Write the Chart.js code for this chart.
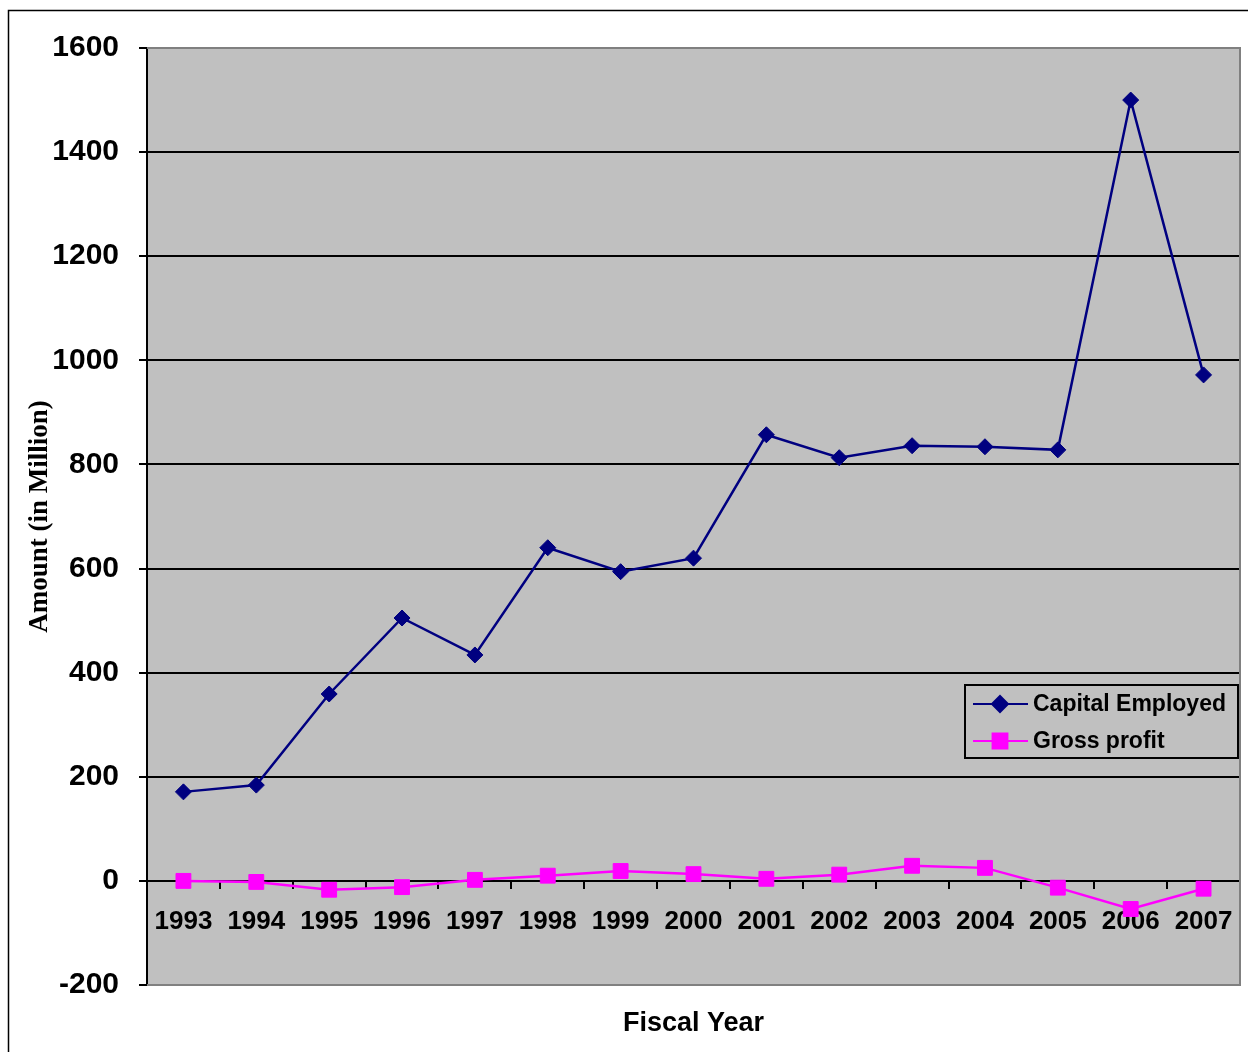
<!DOCTYPE html>
<html>
<head>
<meta charset="utf-8">
<title>Capital Employed vs Gross profit</title>
<script src="https://cdn.jsdelivr.net/npm/chart.js@4.4.1/dist/chart.umd.min.js"></script>
<style>
  html, body { margin: 0; padding: 0; background: #fff; }
  #wrap { width: 1248px; height: 1052px; }
</style>
</head>
<body>
<div id="wrap"><canvas id="chart" width="1248" height="1052"></canvas></div>
<script>
// --- data ---
const years = ['1993', '1994', '1995', '1996', '1997', '1998', '1999', '2000',
               '2001', '2002', '2003', '2004', '2005', '2006', '2007'];
const capitalEmployed = [171, 184, 359, 505, 434, 640, 594, 620, 857, 813, 836, 834, 828, 1500, 972];
const grossProfit = [0, -2, -17, -12, 2, 10, 19, 13, 4, 12, 29, 25, -13, -54, -15];
const yMin = -200;
const yMax = 1600;
const yStep = 200;

const plotGray = '#C0C0C0';
const borderGray = '#808080';

// fondo gris del area + marco exterior
const backgroundPlugin = {
  id: 'background',
  beforeDraw(chart) {
    const { ctx, chartArea: a } = chart;
    ctx.save();
    ctx.fillStyle = '#fff';
    ctx.fillRect(0, 0, chart.width, chart.height);
    ctx.strokeStyle = '#000';
    ctx.lineWidth = 1.5;
    ctx.beginPath();
    ctx.moveTo(8.5, chart.height);
    ctx.lineTo(8.5, 10.5);
    ctx.lineTo(chart.width, 10.5);
    ctx.stroke();
    ctx.fillStyle = plotGray;
    ctx.fillRect(a.left, a.top, a.right - a.left, a.bottom - a.top);
    ctx.restore();
  },
  beforeDatasetsDraw(chart) {
    const { ctx, chartArea: a } = chart;
    ctx.save();
    ctx.strokeStyle = borderGray;
    ctx.lineWidth = 2;
    ctx.beginPath();
    ctx.moveTo(a.left, a.top);
    ctx.lineTo(a.right, a.top);
    ctx.lineTo(a.right, a.bottom);
    ctx.lineTo(a.left, a.bottom);
    ctx.stroke();
    ctx.restore();
  }
};

// leyenda dibujada dentro del area
const legendBoxPlugin = {
  id: 'legendBox',
  afterDraw(chart) {
    const { ctx } = chart;
    const x = 965, y = 685, w = 273, h = 73;
    ctx.save();
    ctx.fillStyle = plotGray;
    ctx.fillRect(x, y, w, h);
    ctx.strokeStyle = '#000';
    ctx.lineWidth = 2;
    ctx.strokeRect(x, y, w, h);
    chart.data.datasets.forEach((ds, i) => {
      const ly = y + 19 + i * 37;
      ctx.strokeStyle = ds.borderColor;
      ctx.lineWidth = 2;
      ctx.beginPath();
      ctx.moveTo(973, ly);
      ctx.lineTo(1028, ly);
      ctx.stroke();
      Chart.helpers.drawPoint(ctx, {
        pointStyle: ds.pointStyle,
        radius: ds.pointRadius,
        borderWidth: 1
      }, 1000, ly);
      ctx.fillStyle = ds.pointBackgroundColor;
      ctx.strokeStyle = ds.pointBorderColor;
      ctx.fill();
      ctx.fillStyle = '#000';
      ctx.font = 'bold 23px "Liberation Sans", Arial, sans-serif';
      ctx.textBaseline = 'middle';
      ctx.textAlign = 'left';
      ctx.fillText(ds.label, 1033, ly + 1);
    });
    ctx.restore();
  }
};

// quitar el relleno lateral que el eje reserva para las etiquetas
function noSidePadding(scale) {
  scale.paddingLeft = 0;
  scale.paddingRight = 0;
}

const ctx = document.getElementById('chart').getContext('2d');
new Chart(ctx, {
  type: 'line',
  data: {
    labels: years,
    datasets: [
      {
        label: 'Capital Employed',
        data: capitalEmployed,
        borderColor: '#000080',
        backgroundColor: '#000080',
        borderWidth: 2.5,
        pointStyle: 'rectRot',
        pointRadius: 8,
        pointBackgroundColor: '#000080',
        pointBorderColor: '#000080',
        pointBorderWidth: 1,
        tension: 0,
        clip: false
      },
      {
        label: 'Gross profit',
        data: grossProfit,
        borderColor: '#FF00FF',
        backgroundColor: '#FF00FF',
        borderWidth: 2.5,
        pointStyle: 'rect',
        pointRadius: 10.5,
        pointBackgroundColor: '#FF00FF',
        pointBorderColor: '#FF00FF',
        pointBorderWidth: 1,
        tension: 0,
        clip: false
      }
    ]
  },
  options: {
    responsive: false,
    animation: false,
    layout: { autoPadding: false, padding: { top: 48, right: 8, left: 0, bottom: 0 } },
    plugins: {
      legend: { display: false },
      tooltip: { enabled: false }
    },
    scales: {
      x: {
        type: 'category',
        position: { y: 0 },
        offset: true,
        grid: {
          display: true,
          drawOnChartArea: false,
          drawTicks: true,
          offset: true,
          tickLength: 7,
          color: '#000',
          lineWidth: 2
        },
        border: { display: true, color: '#000', width: 2 },
        ticks: {
          color: '#000',
          font: { family: '"Liberation Sans", Arial, sans-serif', size: 26, weight: 'bold' },
          padding: 18,
          maxRotation: 0,
          autoSkip: false
        },
        afterFit: noSidePadding
      },
      x2: {
        type: 'category',
        position: 'bottom',
        grid: { display: false },
        border: { display: false },
        ticks: { display: false },
        title: {
          display: true,
          text: 'Fiscal Year',
          color: '#000',
          font: { family: '"Liberation Sans", Arial, sans-serif', size: 27, weight: 'bold' },
          padding: { top: 0, bottom: 12 }
        },
        afterFit(scale) {
          noSidePadding(scale);
          scale.height = 67;
        }
      },
      y: {
        min: yMin,
        max: yMax,
        ticks: {
          stepSize: yStep,
          color: '#000',
          font: { family: '"Liberation Sans", Arial, sans-serif', size: 30, weight: 'bold' },
          padding: 20,
          callback: v => String(v)
        },
        grid: {
          color: c => (c.tick && (c.tick.value === yMax || c.tick.value === yMin)) ? 'rgba(0,0,0,0)' : '#000',
          tickColor: '#000',
          lineWidth: 2,
          tickLength: 8
        },
        border: { display: true, color: '#000', width: 2 },
        title: {
          display: true,
          text: 'Amount (in Million)',
          color: '#000',
          font: { family: '"Liberation Serif", "Times New Roman", serif', size: 27, weight: 'bold' },
          padding: { top: 24, bottom: 0 }
        },
        afterFit(scale) { scale.width = 147; }
      }
    }
  },
  plugins: [backgroundPlugin, legendBoxPlugin]
});
</script>
</body>
</html>
